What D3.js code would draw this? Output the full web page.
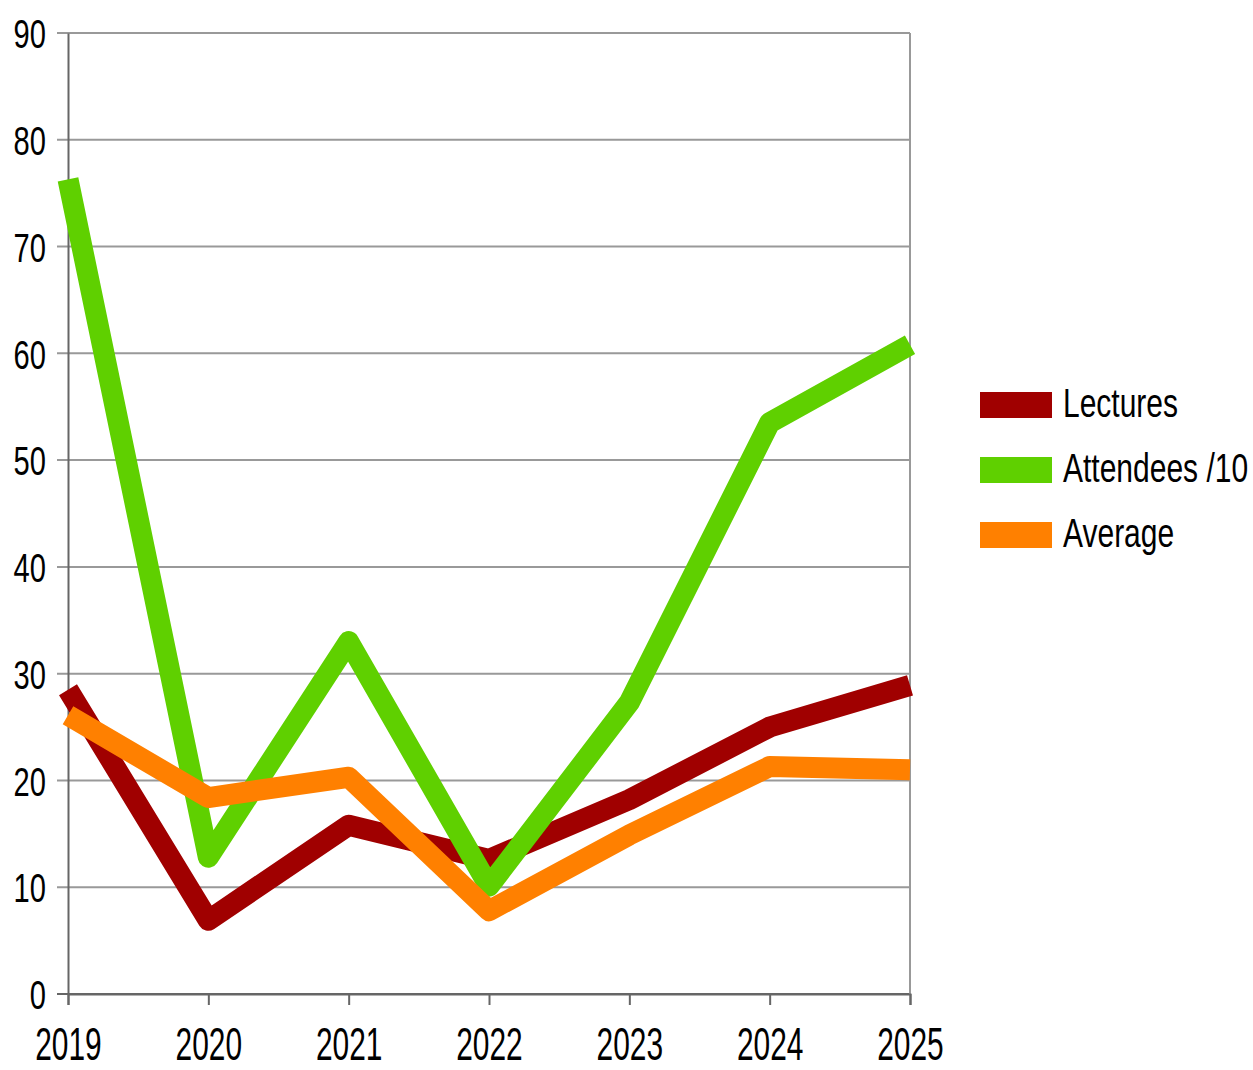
<!DOCTYPE html>
<html>
<head>
<meta charset="utf-8">
<script src="https://cdn.jsdelivr.net/npm/d3@7"></script>
<style>
  body { margin: 0; background: #fff; }
  text { font-family: "Liberation Sans", Arial, sans-serif; fill: #000; }
</style>
</head>
<body>
<div id="chart"></div>
<script>
// data
var years = ["2019", "2020", "2021", "2022", "2023", "2024", "2025"];
var lectures = [28.5, 6.9, 15.8, 12.6, 18.2, 25.0, 28.9];
var attendees = [76.3, 12.8, 33.0, 10.1, 27.3, 53.5, 60.8];
var average = [26.1, 18.4, 20.3, 7.8, 14.9, 21.3, 21.0];
var yTicks = [0, 10, 20, 30, 40, 50, 60, 70, 80, 90];

var seriesNames = ["Lectures", "Attendees /10", "Average"];
var seriesColors = ["#a00000", "#5fd000", "#ff8000"];
var seriesValues = [lectures, attendees, average];

var margin = {top: 33, left: 68},
    width = 842,
    height = 961;

// squeeze text horizontally like the narrow font in the picture
function squeeze(sel, k) {
  sel.each(function() {
    var t = d3.select(this);
    var x0 = +t.attr("x") || 0;
    t.attr("x", 0)
     .attr("transform", "translate(" + x0 + ",0) scale(" + k + ",1)");
  });
}

var svg = d3.select("#chart").append("svg")
    .attr("width", 1253)
    .attr("height", 1070);

var g = svg.append("g")
    .attr("transform", "translate(" + margin.left + "," + margin.top + ")");

var x = d3.scalePoint().domain(years).range([0, width]);
var y = d3.scaleLinear().domain([0, 90]).range([height, 0]);

// gridlines
g.selectAll(".grid")
    .data(yTicks)
  .enter().append("line")
    .attr("x1", -11)
    .attr("x2", width)
    .attr("y1", function(d) { return y(d); })
    .attr("y2", function(d) { return y(d); })
    .attr("stroke", function(d) { return d === 0 ? "#666" : "#999"; })
    .attr("stroke-width", 2);

// right border
g.append("line")
    .attr("x1", width).attr("x2", width)
    .attr("y1", 0).attr("y2", height)
    .attr("stroke", "#999").attr("stroke-width", 2);

// y axis
var yAxis = g.append("g")
    .call(d3.axisLeft(y).tickValues(yTicks).tickSize(0).tickPadding(22));
yAxis.select(".domain").attr("stroke", "#666").attr("stroke-width", 2);
yAxis.selectAll("text")
    .style("font-size", "41px")
    .attr("dy", "0.36em")
    .call(squeeze, 0.71);

// x axis
var xAxis = g.append("g")
    .attr("transform", "translate(0," + height + ")")
    .call(d3.axisBottom(x).tickSize(11).tickPadding(55));
xAxis.select(".domain").attr("stroke", "#666").attr("stroke-width", 2);
xAxis.selectAll(".tick line").attr("stroke", "#666").attr("stroke-width", 2);
xAxis.selectAll("text")
    .style("font-size", "46px")
    .attr("dy", "0")
    .call(squeeze, 0.65);

// lines
var line = d3.line()
    .x(function(d, i) { return x(years[i]); })
    .y(function(d) { return y(d); });

seriesValues.forEach(function(vals, k) {
  g.append("path")
      .datum(vals)
      .attr("fill", "none")
      .attr("stroke", seriesColors[k])
      .attr("stroke-width", 21)
      .attr("stroke-linejoin", "round")
      .attr("d", line);
});

// legend
var legend = svg.append("g").attr("transform", "translate(980,405)");
var item = legend.selectAll(".item")
    .data(seriesNames)
  .enter().append("g")
    .attr("transform", function(d, i) { return "translate(0," + (i * 65) + ")"; });
item.append("rect")
    .attr("x", 0).attr("y", -13)
    .attr("width", 72).attr("height", 26)
    .attr("fill", function(d, i) { return seriesColors[i]; });
item.append("text")
    .attr("x", 83)
    .attr("y", 12)
    .style("font-size", "40px")
    .text(function(d) { return d; })
    .call(squeeze, 0.75);
</script>
</body>
</html>
